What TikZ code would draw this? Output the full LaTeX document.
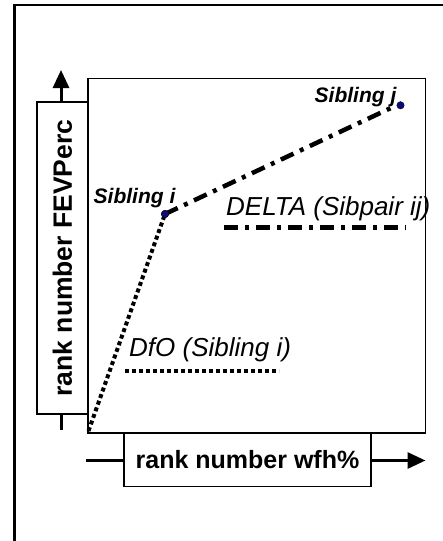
\documentclass[tikz,border=0pt]{standalone}
\usepackage{fontspec}
\setmainfont{Liberation Sans}
\usetikzlibrary{arrows.meta}
\definecolor{dotblue}{RGB}{10,10,120}
\tikzset{
  frame/.style={line width=2.5pt},
  plotbox/.style={draw, line width=1.5pt},
  labelbox/.style={draw, line width=1.5pt, fill=white, inner sep=0pt, font=\fontsize{25pt}{25pt}\selectfont\bfseries},
  axisline/.style={line width=3pt, -{Triangle[length=18pt,width=16pt]}},
  sibdot/.style={circle, fill=dotblue, draw=black, line width=0.3pt, minimum size=7.5pt, inner sep=0pt},
  siblabel/.style={font=\fontsize{21pt}{21pt}\selectfont\bfseries\itshape, inner sep=0pt, anchor=base},
  legtext/.style={font=\fontsize{26pt}{26pt}\selectfont\itshape, inner sep=0pt, anchor=base west},
  dfoline/.style={line width=4pt, dash pattern=on 4pt off 3pt},
  deltaline/.style={line width=4.5pt, dash pattern=on 14pt off 7pt on 4pt off 7pt}
}
\begin{document}
\begin{tikzpicture}[x=1pt,y=-1pt]
\useasboundingbox (0,0) rectangle (443,541);
% outer frame
\draw[frame] (14.5,560) -- (14.5,5) -- (460,5);
% plot area
\node[plotbox, minimum width=337.5pt, minimum height=354.5pt, inner sep=0pt] (plot) at (256.75,255.75) {};
% axes
\coordinate (ybot) at (61,430);
\coordinate (ytop) at (61,70);
\coordinate (xleft) at (86,460.5);
\coordinate (xright) at (425.5,460.5);
\draw[axisline] (ybot) -- (ytop);
\draw[axisline] (xleft) -- (xright);
\node[labelbox, rotate=90, minimum width=312pt, minimum height=51pt, font=\fontsize{26.5pt}{26.5pt}\selectfont\bfseries] (ylab) at (62.5,258) {rank number FEVPerc};
\node[labelbox, minimum width=247pt, minimum height=53.5pt] (xlab) at (247.5,459.75) {rank number wfh\%};
% data
\coordinate (orig) at (88.5,431);
\node[sibdot] (si) at (165,214) {};
\node[sibdot] (sj) at (400.5,105.3) {};
\coordinate (sjend) at (393,107);
\draw[dfoline] (orig) -- (si.center);
\draw[deltaline] (si.center) -- (sjend);
\node[sibdot] at (si) {};
\node[siblabel] (lsi) at (134.5,203) {Sibling i};
\node[siblabel] (lsj) at (355.5,102.3) {Sibling j};
% legend
\node[legtext] (tdelta) at (226,215) {DELTA (Sibpair ij)};
\coordinate (d1) at (224,227.4);
\coordinate (d2) at (406,227.4);
\draw[deltaline] (d1) -- (d2);
\node[legtext] (tdfo) at (129,356) {DfO (Sibling i)};
\coordinate (f1) at (125,371.3);
\coordinate (f2) at (279,371.3);
\draw[dfoline] (f1) -- (f2);
\end{tikzpicture}
\end{document}
